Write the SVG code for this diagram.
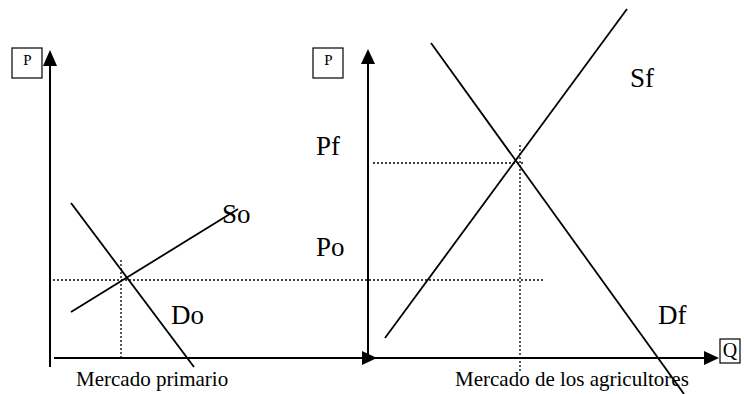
<svg xmlns="http://www.w3.org/2000/svg" width="744" height="394" viewBox="0 0 744 394">
<style>
.ax{stroke:#000;stroke-width:2;fill:none}
.cv{stroke:#000;stroke-width:1.8;fill:none}
.dt{stroke:#000;stroke-width:1.3;stroke-dasharray:2 2;fill:none}
.ah{fill:#000}
.box{fill:#fff;stroke:#000;stroke-width:1.2}
.big{font-family:"Liberation Serif","Times New Roman",serif;font-size:27px;fill:#000}
.sm{font-family:"Liberation Serif","Times New Roman",serif;font-size:21px;fill:#000}
.q{font-family:"Liberation Serif","Times New Roman",serif;font-size:20px;fill:#000}
.bx{font-family:"Liberation Serif","Times New Roman",serif;font-size:15px;fill:#000}
</style>
<g id="connectors">
<line class="ax" x1="50" y1="367" x2="50" y2="62"/>
<polygon class="ah" points="50,50 43,66 57,66"/>
<line class="ax" x1="54" y1="358" x2="366" y2="358"/>
<polygon class="ah" points="377,358 362,351 362,365"/>
<line class="ax" x1="368" y1="358" x2="368" y2="60"/>
<polygon class="ah" points="368,49 361,64 375,64"/>
<line class="ax" x1="372" y1="358" x2="708" y2="358"/>
<polygon class="ah" points="719,358 704,351 704,365"/>
<line class="dt" x1="53" y1="280" x2="545" y2="280"/>
<line class="dt" x1="121" y1="260" x2="121" y2="357"/>
<line class="dt" x1="373" y1="163" x2="525" y2="163"/>
<line class="dt" x1="520" y1="145" x2="520" y2="372"/>
</g>
<g id="Do"><line class="cv" x1="71" y1="203" x2="194" y2="367"/><text class="big" x="171" y="324">Do</text></g>
<g id="So"><line class="cv" x1="71" y1="312" x2="238" y2="209"/><text class="big" x="222" y="223">So</text></g>
<g id="Sf"><line class="cv" x1="385" y1="338" x2="627" y2="9"/><text class="big" x="630" y="87">Sf</text></g>
<g id="Df"><line class="cv" x1="431" y1="43" x2="684" y2="394"/><text class="big" x="658" y="324">Df</text></g>
<g id="Pf"><text class="big" x="316" y="155">Pf</text></g>
<g id="Po"><text class="big" x="316" y="256">Po</text></g>
<g id="P-left"><rect class="box" x="12" y="48" width="30" height="30"/><text class="bx" x="27.5" y="65" text-anchor="middle">P</text></g>
<g id="P-right"><rect class="box" x="313" y="48" width="30" height="30"/><text class="bx" x="328.5" y="65" text-anchor="middle">P</text></g>
<g id="Q"><rect class="box" x="720" y="339" width="20" height="24"/><text class="q" x="730" y="357" text-anchor="middle">Q</text></g>
<g id="label-left"><text class="sm" x="76" y="386">Mercado primario</text></g>
<g id="label-right"><text class="sm" x="455" y="386">Mercado de los agricultores</text></g>
</svg>
